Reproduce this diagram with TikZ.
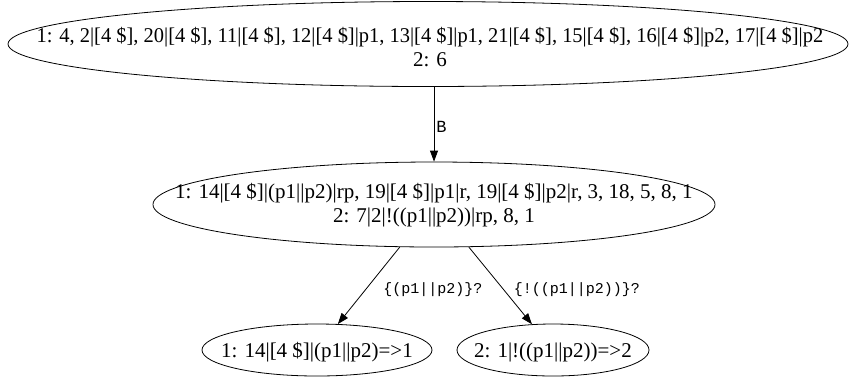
\documentclass[tikz,border=0pt]{standalone}
\usepackage{fontspec}
\setmainfont{Liberation Serif}
\setmonofont{Liberation Mono}
\usetikzlibrary{shapes.geometric,arrows.meta}
\begin{document}
\begin{tikzpicture}[x=1pt,y=-1pt,
  ell/.style={draw,ellipse,inner sep=0pt,line width=0.8pt},
  txt/.style={align=center,inner sep=0pt,font=\fontsize{21}{23.5}\selectfont},
  lab/.style={inner sep=0pt,font=\ttfamily\fontsize{15}{17}\selectfont},
  edge/.style={-{Triangle[length=11pt,width=8pt]},line width=0.8pt}]
\useasboundingbox (0,0) rectangle (851,376);
\node[ell,minimum width=840pt,minimum height=85pt] (top) at (428,44) {};
\node[txt] (topT) at (430,47) {\scalebox{0.975}[1]{1: 4, 2|[4 \$], 20|[4 \$], 11|[4 \$], 12|[4 \$]|p1, 13|[4 \$]|p1, 21|[4 \$], 15|[4 \$], 16|[4 \$]|p2, 17|[4 \$]|p2}\\2: 6};
\node[ell,minimum width=562pt,minimum height=85pt] (mid) at (434,204.5) {};
\node[txt] (midT) at (434,205) {1: 14|[4 \$]|(p1||p2)|rp, 19|[4 \$]|p1|r, 19|[4 \$]|p2|r, 3, 18, 5, 8, 1\\2: 7|2|!((p1||p2))|rp, 8, 1};
\node[ell,minimum width=230pt,minimum height=52pt] (left) at (317,350) {};
\node[txt] (leftT) at (317,352) {1: 14|[4 \$]|(p1||p2)=>1};
\node[ell,minimum width=192pt,minimum height=52pt] (right) at (553,350) {};
\node[txt] (rightT) at (553,352) {2: 1|!((p1||p2))=>2};
\draw[edge] (top.south -| mid.north) -- node[lab,right=2pt,pos=0.53,font=\ttfamily\fontsize{17}{19}\selectfont] (lB) {B} (mid.north);
\draw[edge] (mid) -- (left);
\draw[edge] (mid) -- (right);
\node[lab] (l1) at (433,290) {\{(p1||p2)\}?};
\node[lab] (l2) at (577,290) {\{!((p1||p2))\}?};
\end{tikzpicture}
\end{document}
